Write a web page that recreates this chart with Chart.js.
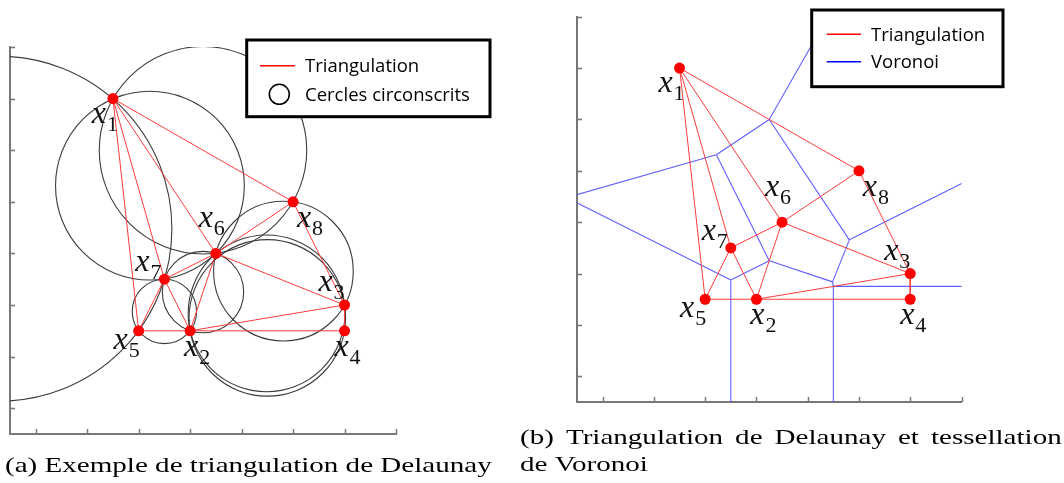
<!DOCTYPE html>
<html>
<head>
<meta charset="utf-8">
<script src="https://cdn.jsdelivr.net/npm/chart.js@4.4.0/dist/chart.umd.min.js"></script>
<style>
html, body { margin: 0; padding: 0; background: #fff; }
#wrap { position: relative; width: 1064px; height: 483px; }
.panel { position: absolute; top: 0; height: 483px; }
#pa { left: 0; width: 510px; }
#pb { left: 510px; width: 554px; }
</style>
</head>
<body>
<div id="wrap">
  <div class="panel" id="pa"><canvas id="chartA" width="510" height="483"></canvas></div>
  <div class="panel" id="pb"><canvas id="chartB" width="554" height="483"></canvas></div>
</div>
<script>
// sites x1..x8
const pointNames = ['1', '2', '3', '4', '5', '6', '7', '8'];
const pointX = [1.5, 3, 6, 6, 2, 3.5, 2.5, 5];
const pointY = [6, 1.5, 2, 1.5, 1.5, 3, 2.5, 4];
// Delaunay triangles, as indices into the site arrays
const triangles = [[0, 4, 6], [0, 6, 5], [0, 5, 7], [4, 6, 1], [6, 5, 1], [5, 7, 2], [5, 1, 2], [1, 2, 3]];
const tickValues = [0, 1, 2, 3, 4, 5, 6, 7];
const axisMin = -0.5;
const axisMax = 7;

const legendLabelsA = ['Triangulation', 'Cercles circonscrits'];
const legendLabelsB = ['Triangulation', 'Voronoi'];
const captionA = '(a) Exemple de triangulation de Delaunay';
const captionB1 = '(b) Triangulation de Delaunay et tessellation';
const captionB2 = 'de Voronoi';

// where the "x_i" label sits relative to its dot (px)
const labelOffsets = [[-14, 17], [1, 18], [-19, -21], [-3, 18], [-18, 11], [-10, -33], [-22, -15], [11, 18]];

const sites = pointX.map((x, i) => ({ x: x, y: pointY[i] }));

function circumcircle(a, b, c) {
    const d = 2 * (a.x * (b.y - c.y) + b.x * (c.y - a.y) + c.x * (a.y - b.y));
    const a2 = a.x * a.x + a.y * a.y, b2 = b.x * b.x + b.y * b.y, c2 = c.x * c.x + c.y * c.y;
    const x = (a2 * (b.y - c.y) + b2 * (c.y - a.y) + c2 * (a.y - b.y)) / d;
    const y = (a2 * (c.x - b.x) + b2 * (a.x - c.x) + c2 * (b.x - a.x)) / d;
    return { x: x, y: y, r: Math.hypot(a.x - x, a.y - y) };
}

const circles = triangles.map(t => circumcircle(sites[t[0]], sites[t[1]], sites[t[2]]));

// edges -> triangles that use them
const edgeMap = new Map();
triangles.forEach((t, ti) => {
    [[t[0], t[1], t[2]], [t[1], t[2], t[0]], [t[2], t[0], t[1]]].forEach(([i, j, k]) => {
        const key = Math.min(i, j) + '-' + Math.max(i, j);
        if (!edgeMap.has(key)) edgeMap.set(key, { i: i, j: j, tris: [], third: [] });
        edgeMap.get(key).tris.push(ti);
        edgeMap.get(key).third.push(k);
    });
});

const gap = { x: null, y: null };
const triEdges = [];
const voronoiEdges = [];
edgeMap.forEach(e => {
    const p = sites[e.i], q = sites[e.j];
    triEdges.push(p, q, gap);
    if (e.tris.length === 2) {
        const c1 = circles[e.tris[0]], c2 = circles[e.tris[1]];
        voronoiEdges.push({ x: c1.x, y: c1.y }, { x: c2.x, y: c2.y }, gap);
    } else {
        // hull edge: ray going outwards
        const c = circles[e.tris[0]];
        const o = sites[e.third[0]];
        let nx = -(q.y - p.y), ny = q.x - p.x;
        const mx = (p.x + q.x) / 2 - o.x, my = (p.y + q.y) / 2 - o.y;
        if (nx * mx + ny * my < 0) { nx = -nx; ny = -ny; }
        const len = Math.hypot(nx, ny);
        voronoiEdges.push({ x: c.x, y: c.y }, { x: c.x + nx / len * 40, y: c.y + ny / len * 40 }, gap);
    }
});

function radiusPx(ctx) {
    const s = ctx.chart.scales.x;
    const r = ctx.raw && ctx.raw.r ? ctx.raw.r : 0;
    return Math.abs(s.getPixelForValue(r) - s.getPixelForValue(0));
}

function drawScaled(ctx, text, x, y, k) {
    ctx.save();
    ctx.translate(x, y);
    ctx.scale(k, 1);
    ctx.fillText(text, 0, 0);
    ctx.restore();
}

const overlay = {
    id: 'overlay',
    afterDraw(chart, args, opts) {
        const ctx = chart.ctx;
        const xs = chart.scales.x, ys = chart.scales.y;
        const area = chart.chartArea;
        ctx.save();

        // tick marks pointing inside
        ctx.strokeStyle = '#777';
        ctx.lineWidth = 1.5;
        ctx.beginPath();
        xs.ticks.forEach(t => {
            const px = Math.round(xs.getPixelForValue(t.value)) + 0.5;
            ctx.moveTo(px, area.bottom);
            ctx.lineTo(px, area.bottom - 5);
        });
        ys.ticks.forEach(t => {
            const py = Math.round(ys.getPixelForValue(t.value)) + 0.5;
            ctx.moveTo(area.left, py);
            ctx.lineTo(area.left + 5, py);
        });
        ctx.stroke();

        // x_i labels
        ctx.fillStyle = '#111';
        ctx.textBaseline = 'alphabetic';
        pointNames.forEach((name, i) => {
            const cx = xs.getPixelForValue(pointX[i]) + labelOffsets[i][0];
            const cy = ys.getPixelForValue(pointY[i]) + labelOffsets[i][1];
            ctx.font = 'italic 32px "Liberation Serif"';
            ctx.textAlign = 'center';
            ctx.fillText('x', cx, cy + 7);
            ctx.font = '22px "Liberation Serif"';
            ctx.textAlign = 'left';
            ctx.fillText(name, cx + 8, cy + 15);
        });

        // legend box
        const lg = opts.legend;
        ctx.fillStyle = '#fff';
        ctx.fillRect(lg.x, lg.y, lg.w, lg.h);
        ctx.strokeStyle = '#000';
        ctx.lineWidth = 3;
        ctx.strokeRect(lg.x, lg.y, lg.w, lg.h);
        lg.labels.forEach((label, k) => {
            const ry = lg.y + lg.rows[k];
            const sym = lg.symbols[k];
            ctx.lineWidth = 1.6;
            if (sym === 'circle') {
                ctx.strokeStyle = '#000';
                ctx.beginPath();
                ctx.arc(lg.x + lg.circleX, ry, 10, 0, Math.PI * 2);
                ctx.stroke();
            } else {
                ctx.strokeStyle = sym;
                ctx.beginPath();
                ctx.moveTo(lg.x + lg.line[0], ry);
                ctx.lineTo(lg.x + lg.line[1], ry);
                ctx.stroke();
            }
            ctx.fillStyle = '#000';
            ctx.font = '18.5px "Open Sans"';
            ctx.textAlign = 'left';
            ctx.fillText(label, lg.x + lg.textX, ry + 6.5, lg.maxText[k]);
        });

        // captions under the panel
        ctx.font = '21px "Liberation Serif"';
        ctx.fillStyle = '#000';
        ctx.textAlign = 'left';
        const k = 486.7 / ctx.measureText(captionA).width;
        opts.captions.forEach(c => {
            if (c.justify) {
                const words = c.text.split(' ');
                const ws = words.map(w => ctx.measureText(w).width * k);
                const space = (c.width - ws.reduce((a, b) => a + b, 0)) / (words.length - 1);
                let x = c.x;
                words.forEach((w, i) => { drawScaled(ctx, w, x, c.y, k); x += ws[i] + space; });
            } else {
                drawScaled(ctx, c.text, c.x, c.y, k);
            }
        });
        ctx.restore();
    }
};

function axis() {
    return {
        type: 'linear',
        min: axisMin,
        max: axisMax,
        afterBuildTicks: s => { s.ticks = tickValues.map(v => ({ value: v })); },
        ticks: { display: false },
        grid: { display: false, drawTicks: false },
        border: { display: true, color: '#777', width: 2 }
    };
}

const sitesDataset = {
    data: sites,
    pointRadius: 5.5,
    pointBackgroundColor: '#ff0000',
    pointBorderWidth: 0
};
const triDataset = {
    data: triEdges,
    showLine: true,
    spanGaps: false,
    borderColor: '#ff3b3b',
    borderWidth: 1,
    pointRadius: 0,
    clip: 0
};

new Chart(document.getElementById('chartA'), {
    type: 'scatter',
    data: {
        datasets: [sitesDataset, triDataset, {
            data: circles,
            pointRadius: radiusPx,
            pointBackgroundColor: 'rgba(0,0,0,0)',
            pointBorderColor: '#3c3c3c',
            pointBorderWidth: 1.1,
            clip: 0
        }]
    },
    options: {
        responsive: false,
        animation: false,
        events: [],
        layout: { padding: { left: 10, right: 114, top: 47, bottom: 49 } },
        scales: { x: axis(), y: axis() },
        plugins: {
            legend: { display: false },
            tooltip: { enabled: false },
            overlay: {
                legend: {
                    x: 246.7, y: 40, w: 243.3, h: 76.7,
                    rows: [25.7, 54.3], symbols: ['#ff0000', 'circle'],
                    labels: legendLabelsA, line: [13.3, 48.3], circleX: 32.6, textX: 58.3,
                    maxText: [122, 171]
                },
                captions: [{ text: captionA, x: 5, y: 472 }]
            }
        }
    },
    plugins: [overlay]
});

new Chart(document.getElementById('chartB'), {
    type: 'scatter',
    data: {
        datasets: [sitesDataset, triDataset, {
            data: voronoiEdges,
            showLine: true,
            spanGaps: false,
            borderColor: '#5f5fff',
            borderWidth: 1.1,
            pointRadius: 0,
            clip: 0
        }]
    },
    options: {
        responsive: false,
        animation: false,
        events: [],
        layout: { padding: { left: 67, right: 102.5, top: 16.7, bottom: 81 } },
        scales: { x: axis(), y: axis() },
        plugins: {
            legend: { display: false },
            tooltip: { enabled: false },
            overlay: {
                legend: {
                    x: 301.7, y: 10, w: 191.3, h: 76.7,
                    rows: [24.3, 51.7], symbols: ['#ff0000', '#0000ff'],
                    labels: legendLabelsB, line: [15, 49.3], circleX: 32, textX: 59.3,
                    maxText: [121, 80]
                },
                captions: [
                    { text: captionB1, x: 10, y: 444, width: 541.7, justify: true },
                    { text: captionB2, x: 10, y: 471 }
                ]
            }
        }
    },
    plugins: [overlay]
});
</script>
</body>
</html>
